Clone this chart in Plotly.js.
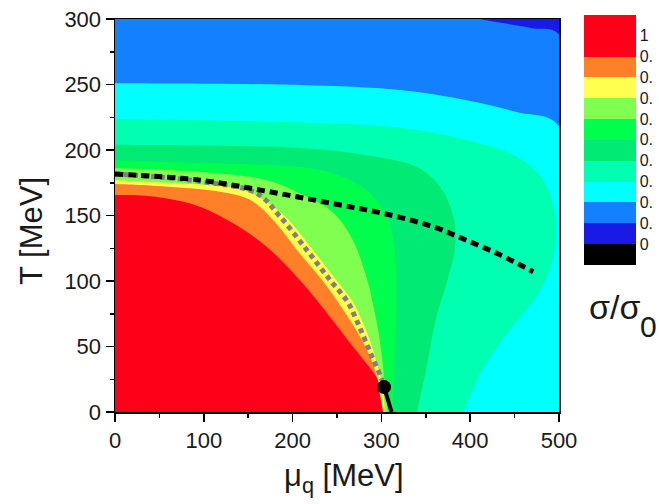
<!DOCTYPE html>
<html><head><meta charset="utf-8">
<script src="https://cdn.plot.ly/plotly-3.0.1.min.js"></script>
<style>html,body{margin:0;padding:0;background:#fff}</style>
</head><body><div id="chart" style="width:659px;height:504px"></div>
<script>
// Contour boundaries of sigma/sigma0: (mu_q [MeV], T [MeV])
const mu_00 = [500, 500];
const T_00  = [-10, 310];
const mu_01 = [500, 500, 470, 440, 415, 395];
const T_01  = [-10, 288, 293, 296.5, 299.5, 302];
const mu_02 = [500, 500, 452, 396, 321, 208, 0, -10];
const T_02  = [-10, 218, 229, 238, 245.8, 249.6, 251, 251];
const mu_03 = [386, 392, 415, 441, 471, 486, 495, 495, 482, 452, 396, 321, 208, 0, -10];
const T_03  = [-10, 0, 34.6, 60, 85.5, 103, 124, 152, 177, 195, 207.6, 217, 221, 223.4, 223.4];
const mu_04 = [337, 340, 351, 362, 373.5, 383, 381, 366, 340, 283, 208, 0, -10];
const T_04  = [-10, 0, 34.6, 72.8, 98.5, 126, 149, 172, 187, 196, 201.5, 204, 204];
const mu_05 = [313, 313, 315, 317, 315, 306, 283, 246, 208, 96, 0, -10];
const T_05  = [-10, 0, 47, 85.5, 123.7, 149, 169.5, 182, 187, 190, 192, 192];
const mu_06 = [308, 307, 304, 297, 290, 285, 268, 246, 208, 171, 100, 0, -10];
const T_06  = [-10, 0, 22, 60, 84, 98.5, 131, 152, 167, 177, 183, 186, 186];
const mu_07 = [305, 304, 301, 296, 287, 278, 268, 250, 223, 192, 163, 133, 58, 0, -10];
const T_07  = [-10, 0, 20, 34.6, 55, 70, 84, 100, 123.7, 149, 164, 171, 175, 177, 177];
const mu_08 = [302, 301, 297, 291.6, 278, 251, 234, 208, 178, 152, 120, 60, 0, -10];
const T_08  = [-10, 0, 20, 34.6, 55, 84, 100, 121, 146.6, 162, 168, 172, 174, 174];
const mu_09 = [304, 302, 298, 296, 280, 262, 245, 227, 208, 171, 133, 95.7, 58, 20.6, 0, -10];
const T_09  = [-10, 0, 14, 24.4, 39.7, 55, 70, 85.5, 100.8, 126, 144, 156.7, 163, 165.6, 165.6, 165.6];

const levels = [0.0, 0.1, 0.2, 0.3, 0.4, 0.5, 0.6, 0.7, 0.8, 0.9];
const boundMu = [mu_00, mu_01, mu_02, mu_03, mu_04, mu_05, mu_06, mu_07, mu_08, mu_09];
const boundT  = [T_00, T_01, T_02, T_03, T_04, T_05, T_06, T_07, T_08, T_09];

// Transition lines
const grayMu  = [0, 95.7, 159.5, 186, 216, 243, 262, 272, 281.5, 291, 300, 303];
const grayT   = [181.7, 176, 167, 149, 123.7, 100, 84, 70, 55, 39.7, 25.7, 19];
const blackMu = [0, 95.7, 171, 246, 302, 358, 396, 433.6, 471];
const blackT  = [181.7, 177, 168.5, 159, 151.6, 141.5, 131, 120, 107];
const firstOrderMu = [303, 311.5];
const firstOrderT  = [19, 0];
const cepMu = [303];
const cepT  = [19];

// Colour scale: bands from -0.1 to 1.1 in steps of 0.1
const cbColors = ['#000000', '#1a1ae6', '#1280ff', '#00ffff', '#00ffb0', '#00ea74',
                  '#00ff4c', '#80ff50', '#ffff50', '#ff8028', '#ff0019'];
const cbTickVals = [1.0, 0.9, 0.8, 0.7, 0.6, 0.5, 0.4, 0.3, 0.2, 0.1, 0.0];
const cbTickText = ['1', '0.', '0.', '0.', '0.', '0.', '0.', '0.', '0.', '0.', '0'];
const xTicks = [0, 100, 200, 300, 400, 500];
const xMinor = [50, 150, 250, 350, 450];
const yTicks = [0, 50, 100, 150, 200, 250, 300];
const yMinor = [25, 75, 125, 175, 225, 275];

const cbMin = -0.1, cbMax = 1.1;
const bandEdges = [-0.1, 0.0, 0.1, 0.2, 0.3, 0.4, 0.5, 0.6, 0.7, 0.8, 0.9, 1.1];
const colorscale = [];
for (let i = 0; i < cbColors.length; i++) {
  const a = (bandEdges[i] - cbMin) / (cbMax - cbMin);
  const b = (bandEdges[i + 1] - cbMin) / (cbMax - cbMin);
  colorscale.push([a, cbColors[i]]);
  colorscale.push([b, cbColors[i]]);
}

const traces = [];
levels.forEach((lv, i) => {
  traces.push({
    type: 'scatter', mode: 'lines', x: boundMu[i], y: boundT[i],
    fill: 'tozerox', fillcolor: cbColors[i + 1],
    line: {width: 0, shape: 'spline', smoothing: 1, color: cbColors[i + 1]},
    hoverinfo: 'skip', showlegend: false
  });
});
traces.push({type: 'scatter', mode: 'lines', x: grayMu, y: grayT,
  line: {color: '#808080', width: 5, dash: '5px,4px', shape: 'spline'}, hoverinfo: 'skip'});
traces.push({type: 'scatter', mode: 'lines', x: blackMu, y: blackT,
  line: {color: '#000000', width: 5, dash: '8px,5px', shape: 'spline'}, hoverinfo: 'skip'});
traces.push({type: 'scatter', mode: 'lines', x: firstOrderMu, y: firstOrderT,
  line: {color: '#000000', width: 4}, hoverinfo: 'skip'});
traces.push({type: 'scatter', mode: 'markers', x: cepMu, y: cepT,
  marker: {color: '#000000', size: 14}, hoverinfo: 'skip'});
// colour bar carrier (point outside the visible range)
traces.push({type: 'scatter', mode: 'markers', x: [-100], y: [-100],
  marker: {color: [0.5], cmin: cbMin, cmax: cbMax, colorscale: colorscale, showscale: true,
    colorbar: {xref: 'container', x: 584 / 659, xanchor: 'left',
      yref: 'container', y: 1 - 19 / 504, yanchor: 'top',
      len: 250, lenmode: 'pixels', thickness: 52, thicknessmode: 'pixels',
      xpad: 0, ypad: 0, outlinewidth: 0,
      tickmode: 'array', tickvals: cbTickVals, ticktext: cbTickText,
      ticks: '', ticklen: 5, tickfont: {size: 16, color: '#1a1a1a'}}},
  hoverinfo: 'skip', showlegend: false});

const axisCommon = {
  ticks: 'outside', ticklen: 8, tickwidth: 1.5, tickcolor: '#000',
  showline: true, linecolor: '#000', linewidth: 1.5, mirror: true,
  showgrid: false, zeroline: false, tickfont: {size: 22, color: '#1a1a1a'},
  fixedrange: true
};
const layout = {
  width: 659, height: 504,
  margin: {l: 115, r: 100, t: 19, b: 92, pad: 0},
  paper_bgcolor: '#ffffff', plot_bgcolor: '#ffffff',
  showlegend: false,
  font: {family: 'Liberation Sans, Arial, sans-serif', color: '#1a1a1a'},
  xaxis: Object.assign({}, axisCommon, {range: [0, 500], tickmode: 'array', tickvals: xTicks,
    minor: {tickmode: 'array', tickvals: xMinor, ticks: 'outside', ticklen: 4, tickwidth: 1.5, tickcolor: '#000', showgrid: false}}),
  yaxis: Object.assign({}, axisCommon, {range: [0, 300], tickmode: 'array', tickvals: yTicks,
    minor: {tickmode: 'array', tickvals: yMinor, ticks: 'outside', ticklen: 4, tickwidth: 1.5, tickcolor: '#000', showgrid: false}}),
  annotations: [
    {text: 'T [MeV]', xref: 'paper', yref: 'paper', x: -0.187, y: 0.4606, textangle: -90,
     showarrow: false, xanchor: 'center', yanchor: 'middle', font: {size: 31, color: '#1a1a1a'}},
    {text: 'μ<sub>q</sub> [MeV]', xref: 'paper', yref: 'paper', x: 0.5158, y: -0.168,
     showarrow: false, xanchor: 'center', yanchor: 'middle', font: {size: 31, color: '#1a1a1a'}},
    {text: 'σ/σ', xref: 'paper', yref: 'paper', x: 1.126, y: 0.267,
     showarrow: false, xanchor: 'center', yanchor: 'middle', font: {size: 34, color: '#1a1a1a'}},
    {text: '0', xref: 'paper', yref: 'paper', x: 1.2027, y: 0.2176,
     showarrow: false, xanchor: 'center', yanchor: 'middle', font: {size: 30, color: '#1a1a1a'}}
  ]
};
Plotly.newPlot('chart', traces, layout, {displayModeBar: false, staticPlot: true});
</script></body></html>
